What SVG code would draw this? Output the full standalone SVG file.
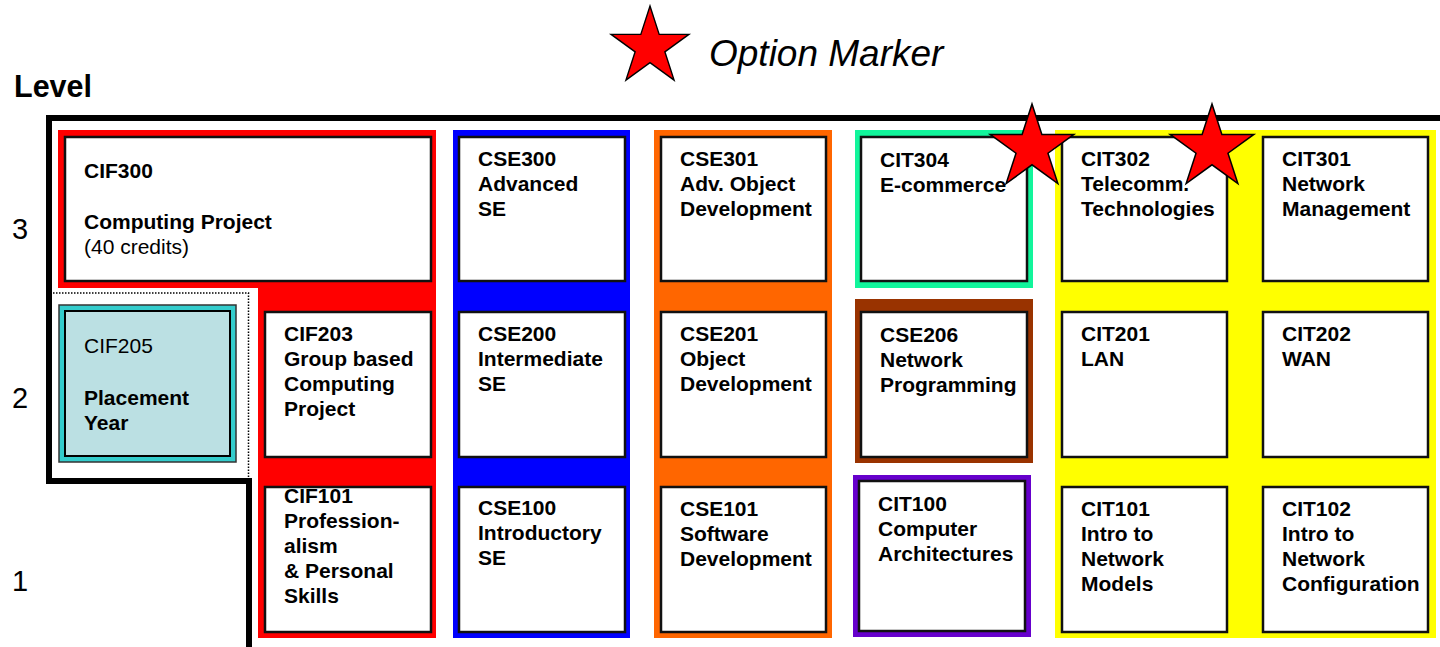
<svg xmlns="http://www.w3.org/2000/svg" xmlns:xlink="http://www.w3.org/1999/xlink" width="1440" height="647" viewBox="0 0 1440 647">
<style>
text{font-family:"Liberation Sans",Arial,Helvetica,sans-serif;fill:#000}
.t{font-size:21px;font-weight:bold}
.r{font-size:21px;font-weight:normal}
.lv{font-size:29px}
.box{fill:#fff;stroke:#111;stroke-width:2.5}
.star{fill:#ff0000;stroke:#000;stroke-width:1.5;stroke-linejoin:miter}
</style>
<defs>
<polygon id="star" points="0,-44 9.87,-13.6 41.85,-13.6 15.98,5.19 25.86,35.6 0,16.8 -25.86,35.6 -15.98,5.19 -41.85,-13.6 -9.87,-13.6"/>
</defs>
<rect width="1440" height="647" fill="#fff"/>

<g id="legend">
<use xlink:href="#star" href="#star" class="star" transform="translate(650,47) scale(0.93)"/>
<text x="709" y="66" style="font-size:37px;font-style:italic">Option Marker</text>
</g>

<g id="levels">
<text x="14" y="97" style="font-size:30.5px;font-weight:bold">Level</text>
<text x="12" y="239" class="lv">3</text>
<text x="12" y="408" class="lv">2</text>
<text x="12" y="591" class="lv">1</text>
</g>

<g id="backgrounds">
<path d="M58,130 H436 V638 H258 V288 H58 Z" fill="#ff0000"/>
<rect x="453" y="130" width="177" height="508" fill="#0000ff"/>
<rect x="654" y="130" width="178" height="508" fill="#ff6600"/>
<rect x="855" y="130" width="178" height="158" fill="#11f59b"/>
<rect x="855" y="299" width="178" height="164" fill="#993300"/>
<rect x="853" y="475" width="178" height="162" fill="#6600cc"/>
<rect x="1055" y="130" width="381" height="508" fill="#ffff00"/>
</g>

<g id="frame">
<path d="M1440,118 H49 V481 H249 V647" fill="none" stroke="#000" stroke-width="6"/>
<path d="M53,293 H248.5 V479" fill="none" stroke="#000" stroke-width="1.5" stroke-dasharray="1.5,1.5"/>
</g>

<g id="CIF300">
<rect class="box" x="65" y="137" width="366" height="144"/>
<text class="t" x="84" y="178">CIF300</text>
<text class="t" x="84" y="229">Computing Project</text>
<text class="r" x="84" y="254">(40 credits)</text>
</g>

<g id="CIF205">
<rect x="59" y="305" width="177" height="157" fill="#33cccc" stroke="#333" stroke-width="1.5"/>
<rect x="65" y="311" width="165" height="145" fill="#bbe0e3" stroke="#000" stroke-width="2"/>
<text class="r" x="84" y="353">CIF205</text>
<text class="t" x="84" y="405">Placement</text>
<text class="t" x="84" y="430">Year</text>
</g>

<g id="CIF203">
<rect class="box" x="265" y="312" width="166" height="145"/>
<text class="t" x="284" y="341">CIF203</text>
<text class="t" x="284" y="366">Group based</text>
<text class="t" x="284" y="391">Computing</text>
<text class="t" x="284" y="416">Project</text>
</g>

<g id="CIF101">
<rect class="box" x="265" y="487" width="166" height="145"/>
<text class="t" x="284" y="503">CIF101</text>
<text class="t" x="284" y="528">Profession-</text>
<text class="t" x="284" y="553">alism</text>
<text class="t" x="284" y="578">&amp; Personal</text>
<text class="t" x="284" y="603">Skills</text>
</g>

<g id="CSE300">
<rect class="box" x="459" y="137" width="166" height="144"/>
<text class="t" x="478" y="166">CSE300</text>
<text class="t" x="478" y="191">Advanced</text>
<text class="t" x="478" y="216">SE</text>
</g>

<g id="CSE200">
<rect class="box" x="459" y="312" width="166" height="145"/>
<text class="t" x="478" y="341">CSE200</text>
<text class="t" x="478" y="366">Intermediate</text>
<text class="t" x="478" y="391">SE</text>
</g>

<g id="CSE100">
<rect class="box" x="459" y="487" width="166" height="145"/>
<text class="t" x="478" y="515">CSE100</text>
<text class="t" x="478" y="540">Introductory</text>
<text class="t" x="478" y="565">SE</text>
</g>

<g id="CSE301">
<rect class="box" x="661" y="137" width="165" height="144"/>
<text class="t" x="680" y="166">CSE301</text>
<text class="t" x="680" y="191">Adv. Object</text>
<text class="t" x="680" y="216">Development</text>
</g>

<g id="CSE201">
<rect class="box" x="661" y="312" width="165" height="145"/>
<text class="t" x="680" y="341">CSE201</text>
<text class="t" x="680" y="366">Object</text>
<text class="t" x="680" y="391">Development</text>
</g>

<g id="CSE101">
<rect class="box" x="661" y="487" width="165" height="145"/>
<text class="t" x="680" y="516">CSE101</text>
<text class="t" x="680" y="541">Software</text>
<text class="t" x="680" y="566">Development</text>
</g>

<g id="CIT304">
<rect class="box" x="861" y="137" width="166" height="144"/>
<text class="t" x="880" y="167">CIT304</text>
<text class="t" x="880" y="192">E-commerce</text>
</g>

<g id="CSE206">
<rect class="box" x="861" y="312" width="166" height="145"/>
<text class="t" x="880" y="342">CSE206</text>
<text class="t" x="880" y="367">Network</text>
<text class="t" x="880" y="392">Programming</text>
</g>

<g id="CIT100">
<rect class="box" x="859" y="481" width="166" height="150"/>
<text class="t" x="878" y="511">CIT100</text>
<text class="t" x="878" y="536">Computer</text>
<text class="t" x="878" y="561">Architectures</text>
</g>

<g id="CIT302">
<rect class="box" x="1062" y="137" width="165" height="144"/>
<text class="t" x="1081" y="166">CIT302</text>
<text class="t" x="1081" y="191">Telecomm.</text>
<text class="t" x="1081" y="216">Technologies</text>
</g>

<g id="CIT301">
<rect class="box" x="1263" y="137" width="165" height="144"/>
<text class="t" x="1282" y="166">CIT301</text>
<text class="t" x="1282" y="191">Network</text>
<text class="t" x="1282" y="216">Management</text>
</g>

<g id="CIT201">
<rect class="box" x="1062" y="312" width="165" height="145"/>
<text class="t" x="1081" y="341">CIT201</text>
<text class="t" x="1081" y="366">LAN</text>
</g>

<g id="CIT202">
<rect class="box" x="1263" y="312" width="165" height="145"/>
<text class="t" x="1282" y="341">CIT202</text>
<text class="t" x="1282" y="366">WAN</text>
</g>

<g id="CIT101">
<rect class="box" x="1062" y="487" width="165" height="145"/>
<text class="t" x="1081" y="516">CIT101</text>
<text class="t" x="1081" y="541">Intro to</text>
<text class="t" x="1081" y="566">Network</text>
<text class="t" x="1081" y="591">Models</text>
</g>

<g id="CIT102">
<rect class="box" x="1263" y="487" width="165" height="145"/>
<text class="t" x="1282" y="516">CIT102</text>
<text class="t" x="1282" y="541">Intro to</text>
<text class="t" x="1282" y="566">Network</text>
<text class="t" x="1282" y="591">Configuration</text>
</g>

<g id="option-markers">
<use xlink:href="#star" href="#star" class="star" transform="translate(1032,148)"/>
<use xlink:href="#star" href="#star" class="star" transform="translate(1212,148)"/>
</g>
</svg>
